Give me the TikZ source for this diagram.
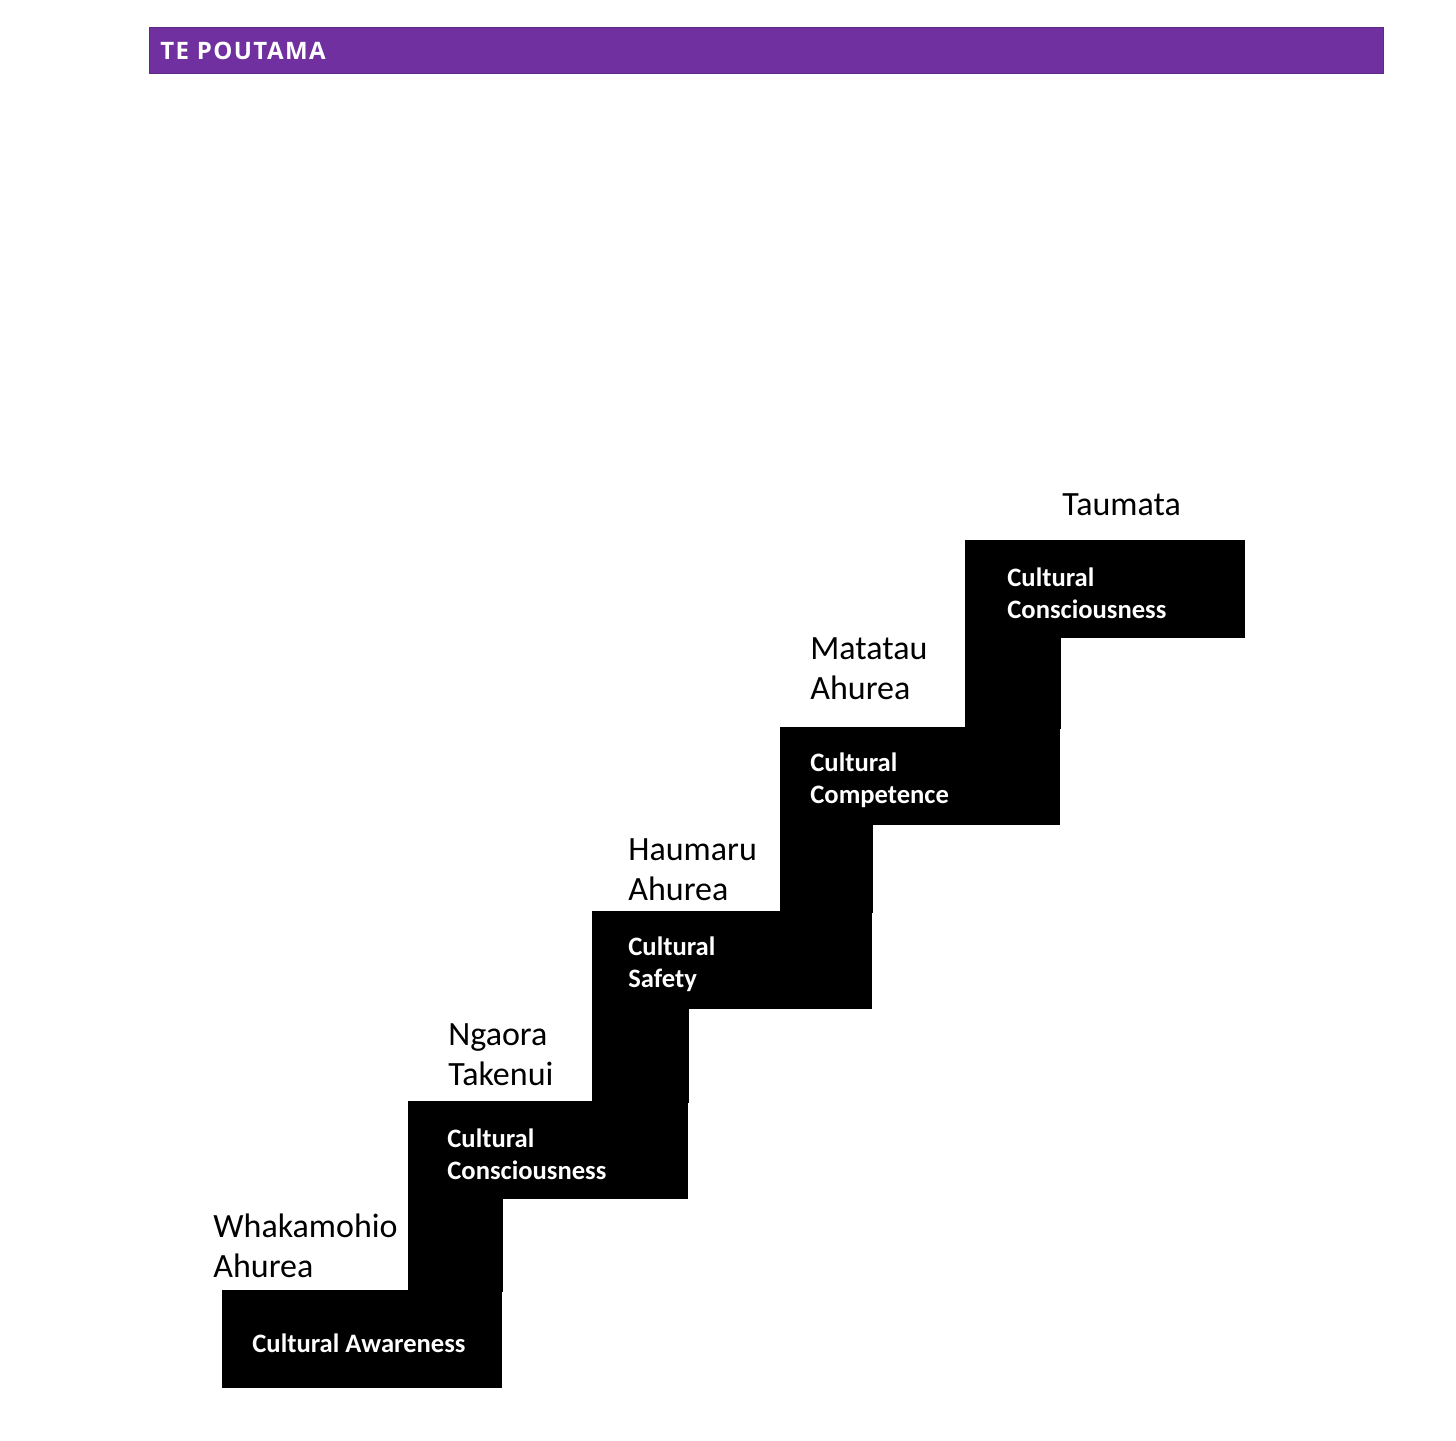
\documentclass[tikz,border=0pt]{standalone}
\usepackage{fontspec}
\setmainfont{Carlito}
\newfontfamily\headfont[LetterSpace=6]{Open Sans}
\usepackage{tikz}
\usetikzlibrary{positioning,calc}
\usepackage{xcolor}
\definecolor{poutama}{HTML}{7030A0}

\begin{document}
\begin{tikzpicture}[x=0.5pt, y=-0.5pt,
    tread/.style={rectangle, fill=black, inner sep=0pt, minimum width=140pt, minimum height=49pt, anchor=north west},
    riser/.style={fill=black},
    treadtext/.style={anchor=west, text=white, align=left, inner sep=0pt, yshift=-2pt, font=\fontsize{13.3}{16}\selectfont\bfseries},
    level/.style={anchor=base west, align=left, inner sep=0pt, font=\fontsize{17}{20}\selectfont}]
    \useasboundingbox (0,0) rectangle (1456,1440);

    % header bar
    \node[rectangle, fill=poutama, draw=poutama!85!black, anchor=north west, minimum width=617pt, minimum height=23pt, inner sep=0pt] (bar) at (149,27) {};
    \node[anchor=west, text=white, font=\headfont\fontsize{12}{14}\selectfont\bfseries, inner sep=0pt] (title) at (160,51) {TE POUTAMA};

    % treads
    \node[tread] (t1) at (222,1290) {};
    \node[tread] (t2) at (408,1101) {};
    \node[tread] (t3) at (592,911) {};
    \node[tread] (t4) at (780,727) {};
    \node[tread] (t5) at (965,540) {};

    % risers (a little overlap so no seams show)
    \fill[riser] ($(t2.south west)+(0,-2)$) rectangle ($(t1.north east)+(0,2)$);
    \fill[riser] ($(t3.south west)+(0,-2)$) rectangle ($(t2.north east)+(0,2)$);
    \fill[riser] ($(t4.south west)+(0,-2)$) rectangle ($(t3.north east)+(0,2)$);
    \fill[riser] ($(t5.south west)+(0,-2)$) rectangle ($(t4.north east)+(0,2)$);

    % tread texts
    \node[treadtext, right=15pt of t1.west] (awareness) {Cultural Awareness};
    \node[treadtext, right=19.5pt of t2.west] (consciousness1) {Cultural\\Consciousness};
    \node[treadtext, right=18pt of t3.west] (safety) {Cultural\\Safety};
    \node[treadtext, right=15pt of t4.west] (competence) {Cultural\\Competence};
    \node[treadtext, right=21pt of t5.west] (consciousness2) {Cultural\\Consciousness};

    % level names
    \node[level] (whakamohio) at (213,1277) {Whakamohio\\Ahurea};
    \node[level] (ngaora) at (448,1085) {Ngaora\\Takenui};
    \node[level] (haumaru) at (628,900) {Haumaru\\Ahurea};
    \node[level] (matatau) at (810,699) {Matatau\\Ahurea};
    \node[level] (taumata) at (1062,515) {Taumata};
\end{tikzpicture}
\end{document}
